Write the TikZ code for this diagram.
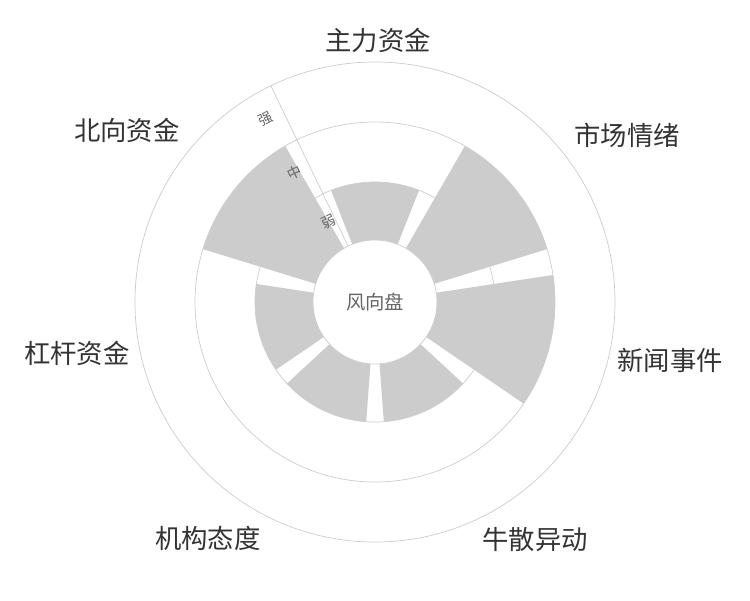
\documentclass[tikz,border=0pt]{standalone}
\usepackage{fontspec}
\newfontfamily\cjk{Noto Sans CJK SC}
\definecolor{ringgray}{HTML}{CCCCCC}
\definecolor{fillgray}{HTML}{CCCCCC}
\definecolor{labeltext}{HTML}{333333}
\definecolor{axistext}{HTML}{666666}

\begin{document}
\begin{tikzpicture}[x=0.02cm,y=0.02cm,
  ring/.style={draw=ringgray, thin},
  sector/.style={fill=fillgray},
  dirlabel/.style={font=\cjk\fontsize{15}{18}\selectfont, text=labeltext},
  levellabel/.style={font=\cjk\fontsize{8}{10}\selectfont, text=axistext, rotate=25.7}]
\useasboundingbox (-375,-298) rectangle (375,302);

% rings
\draw[ring] (0,0) circle (240);
\draw[ring] (0,0) circle (180);
\draw[ring] (0,0) circle (120);

% sectors: centre angle / radius
\foreach \a/\r in {90/120, 38.57/180, -12.86/180, -64.29/120,
                   -115.71/120, -167.14/120, 141.43/180}
  \fill[sector] (\a-21.5:62) arc (\a-21.5:\a+21.5:62)
                -- (\a+21.5:\r) arc (\a+21.5:\a-21.5:\r) -- cycle;

% axis
\draw[ring] (115.71:62) -- (115.71:240);
\node[levellabel] (weak) at (120:92) {弱};
\node[levellabel] (mid) at (122:152) {中};
\node[levellabel] (strong) at (121:213) {强};

% centre
\node[circle, draw=ringgray, fill=white, minimum size=2.48cm,
      font=\cjk\fontsize{11}{13}\selectfont, text=axistext] (hub) at (0,0) {风向盘};

% directions
\node[dirlabel] (main) at (3,262) {主力资金};
\node[dirlabel] (mood) at (252,167) {市场情绪};
\node[dirlabel] (news) at (295,-58) {新闻事件};
\node[dirlabel] (retail) at (160,-238) {牛散异动};
\node[dirlabel] (inst) at (-167,-236) {机构态度};
\node[dirlabel] (lever) at (-298,-51) {杠杆资金};
\node[dirlabel] (north) at (-248,172) {北向资金};
\end{tikzpicture}
\end{document}
